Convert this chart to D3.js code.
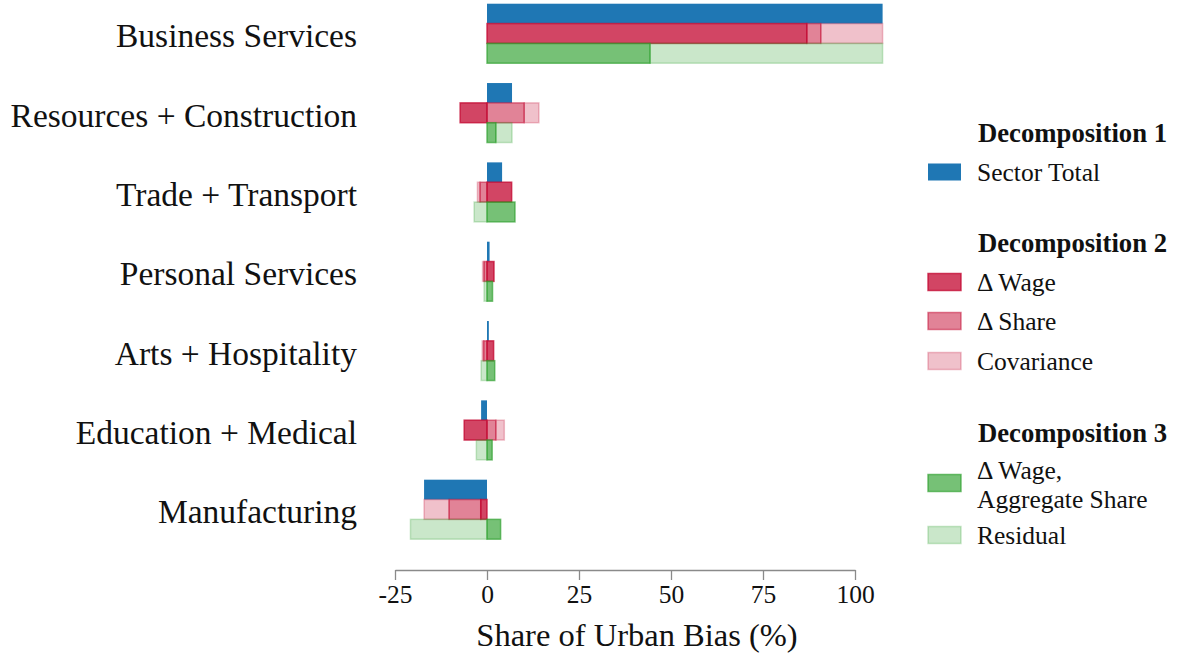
<!DOCTYPE html>
<html>
<head>
<meta charset="utf-8">
<script src="https://cdn.jsdelivr.net/npm/d3@7"></script>
<style>
  body { margin: 0; background: #fff; }
  svg text { font-family: "Liberation Serif", "Times New Roman", serif; fill: #111; }
</style>
</head>
<body>
<div id="chart"></div>
<script>
// sectors, top to bottom
var sectors = ["Business Services", "Resources + Construction", "Trade + Transport",
  "Personal Services", "Arts + Hospitality", "Education + Medical", "Manufacturing"];

// decomposition 1
var sectorTotal = [107.5, 6.8, 4.1, 0.7, 0.5, -1.6, -17.1];
// decomposition 2
var deltaWage = [86.9, -7.3, 6.7, 1.9, 1.8, -6.2, -1.7];
var deltaShare = [3.8, 10.1, -1.9, -0.8, -0.9, 2.4, -8.6];
var covariance = [16.8, 4.0, -0.7, -0.4, -0.4, 2.3, -6.8];
// decomposition 3
var wageAggShare = [44.3, 2.4, 7.6, 1.5, 2.1, 1.4, 3.7];
var residual = [63.2, 4.4, -3.5, -0.8, -1.6, -2.9, -20.8];

var xTicks = [-25, 0, 25, 50, 75, 100];

var W = 1183, H = 660;
var BLUE = "#1f77b4", RED = "#c30730", GREEN = "#2ca02c";

var svg = d3.select("#chart").append("svg")
  .attr("width", W).attr("height", H);

var x = d3.scaleLinear().domain([-25, 100]).range([395, 855]);

// one band per sector, three rows inside each band
var y = d3.scaleBand().domain(sectors).range([-6.2, 549.1])
  .paddingInner(0.25).paddingOuter(0.125);
var row = d3.scaleBand().domain(["d1", "d2", "d3"]).range([0, y.bandwidth()]);

// series definitions: key, values, row, colour, alpha
var series = [
  {key: "total", label: "Sector Total", vals: sectorTotal, row: "d1", color: BLUE, a: 1},
  {key: "wage", label: "\u0394 Wage", vals: deltaWage, row: "d2", color: RED, a: 0.75},
  {key: "share", label: "\u0394 Share", vals: deltaShare, row: "d2", color: RED, a: 0.5},
  {key: "cov", label: "Covariance", vals: covariance, row: "d2", color: RED, a: 0.25},
  {key: "aggw", label: ["\u0394 Wage,", "Aggregate Share"], vals: wageAggShare, row: "d3", color: GREEN, a: 0.65},
  {key: "resid", label: "Residual", vals: residual, row: "d3", color: GREEN, a: 0.25}
];

var table = sectors.map(function(s, i) {
  var o = {sector: s};
  series.forEach(function(sr) { o[sr.key] = sr.vals[i]; });
  return o;
});

// stack each row separately, positives and negatives apart
["d1", "d2", "d3"].forEach(function(r) {
  var ss = series.filter(function(sr) { return sr.row == r; });
  var stacked = d3.stack().keys(ss.map(function(sr) { return sr.key; }))
    .offset(d3.stackOffsetDiverging)(table);
  stacked.forEach(function(layer, li) {
    var sr = ss[li];
    svg.append("g").selectAll("rect")
      .data(layer)
      .enter().append("rect")
      .attr("x", function(d) { return x(Math.min(d[0], d[1])); })
      .attr("width", function(d) { return Math.abs(x(d[1]) - x(d[0])); })
      .attr("y", function(d) { return y(d.data.sector) + row(r); })
      .attr("height", row.bandwidth())
      .attr("fill", sr.color)
      .attr("fill-opacity", sr.a)
      .attr("stroke", sr.a < 1 ? sr.color : "none")
      .attr("stroke-opacity", sr.a)
      .attr("stroke-width", 1.5);
  });
});

// sector labels
svg.append("g").selectAll("text")
  .data(sectors)
  .enter().append("text")
  .attr("x", 357)
  .attr("y", function(d) { return y(d) + y.bandwidth() / 2 + 14; })
  .attr("text-anchor", "end")
  .style("font-size", "33.5px")
  .text(function(d) { return d; });

// x axis
var axis = svg.append("g")
  .attr("transform", "translate(0,570)")
  .call(d3.axisBottom(x).tickValues(xTicks).tickSize(10).tickSizeOuter(0)
    .tickPadding(5).tickFormat(function(d) { return String(d); }));
axis.selectAll("path, line").attr("stroke", "#8a8a8a").attr("stroke-width", 1.3);
axis.selectAll("text").style("font-size", "25.5px")
  .style("font-family", "'Liberation Serif', serif").attr("fill", "#111");

svg.append("text")
  .attr("x", 637).attr("y", 646)
  .attr("text-anchor", "middle")
  .style("font-size", "32.5px")
  .text("Share of Urban Bias (%)");

// legend
var legendGroups = [
  {title: "Decomposition 1", ty: 142, items: [{s: series[0], y: 172}]},
  {title: "Decomposition 2", ty: 252, items: [{s: series[1], y: 282}, {s: series[2], y: 321}, {s: series[3], y: 361}]},
  {title: "Decomposition 3", ty: 442, items: [{s: series[4], y: 483}, {s: series[5], y: 535}]}
];

var legend = svg.append("g").attr("class", "legend");
legendGroups.forEach(function(g) {
  legend.append("text")
    .attr("x", 978).attr("y", g.ty)
    .style("font-size", "26.7px").style("font-weight", "bold")
    .text(g.title);
  g.items.forEach(function(it) {
    legend.append("rect")
      .attr("x", 928).attr("y", it.y - 8.5)
      .attr("width", 33).attr("height", 17)
      .attr("fill", it.s.color)
      .attr("fill-opacity", it.s.a)
      .attr("stroke", it.s.a < 1 ? it.s.color : "none")
      .attr("stroke-opacity", it.s.a)
      .attr("stroke-width", 1.5);
    var lines = Array.isArray(it.s.label) ? it.s.label : [it.s.label];
    lines.forEach(function(l, k) {
      legend.append("text")
        .attr("x", 977)
        .attr("y", it.y + 9 - (lines.length - 1) * 13 + k * 29)
        .style("font-size", "25.5px")
        .text(l);
    });
  });
});
</script>
</body>
</html>
